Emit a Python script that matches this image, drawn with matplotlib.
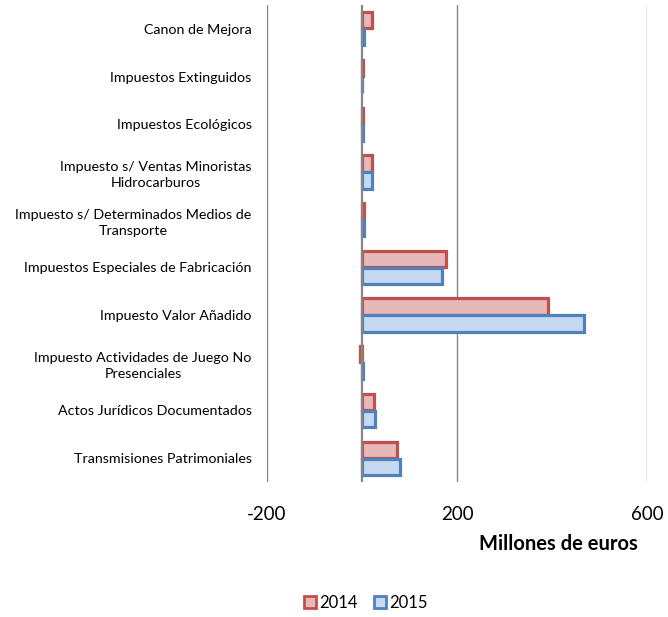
import matplotlib.pyplot as plt
from matplotlib.patches import Patch
import numpy as np

plt.rcParams['font.family'] = ['Lato', 'DejaVu Sans']

# categories, top to bottom as in the chart
categorias = [
    "Canon de Mejora",
    "Impuestos Extinguidos",
    "Impuestos Ecológicos",
    "Impuesto s/ Ventas Minoristas\nHidrocarburos",
    "Impuesto s/ Determinados Medios de\nTransporte",
    "Impuestos Especiales de Fabricación",
    "Impuesto Valor Añadido",
    "Impuesto Actividades de Juego No\nPresenciales",
    "Actos Jurídicos Documentados",
    "Transmisiones Patrimoniales",
]
v2014 = [20, 3, 2, 20, 5, 176, 392, -5, 26, 73]
v2015 = [5, 0, 2, 20, 4, 169, 467, 2, 28, 79]
xticks = [-200, 200, 600]

fig = plt.figure(figsize=(6.68, 6.17), dpi=100)
ax = fig.add_axes([267/668, 1-482/617, 380/668, 477/617])

y = np.arange(len(categorias))
h = 0.34
ax.barh(y - 0.178, v2014, height=h, color="#E6B9B8", edgecolor="#C0504D", linewidth=2.3, zorder=2)
ax.barh(y + 0.178, v2015, height=h, color="#C6D9F1", edgecolor="#4F81BD", linewidth=2.3, zorder=2)

ax.set_xlim(-200, 600)
ax.set_ylim(len(categorias) - 0.5, -0.5)
ax.set_xticks(xticks)
ax.set_xticklabels([str(t) for t in xticks], fontsize=13.5)
ax.set_yticks(y)
ax.set_yticklabels(categorias, fontsize=10.3, ha="right", multialignment="center", linespacing=1.45)
ax.tick_params(axis="x", length=0, pad=17)
ax.tick_params(axis="y", length=0, pad=11)
ax.grid(axis="x", color="#868686", linewidth=1, zorder=0)
ax.axvline(0, color="#868686", linewidth=1.6, zorder=3)
for s in ax.spines.values():
    s.set_visible(False)

fig.text(638/668, 1-544/617, "Millones de euros", fontsize=14.5, fontweight="bold", ha="right", va="center")

handles = [Patch(facecolor="#E6B9B8", edgecolor="#C0504D", linewidth=2, label="2014"),
           Patch(facecolor="#C6D9F1", edgecolor="#4F81BD", linewidth=2, label="2015")]
fig.legend(handles=handles, loc="center", bbox_to_anchor=(366/668, 1-603/617), ncol=2, frameon=False,
           fontsize=12, handlelength=0.7, handleheight=0.7, handletextpad=0.2, columnspacing=1.0)

fig.savefig("out.png", dpi=100)
